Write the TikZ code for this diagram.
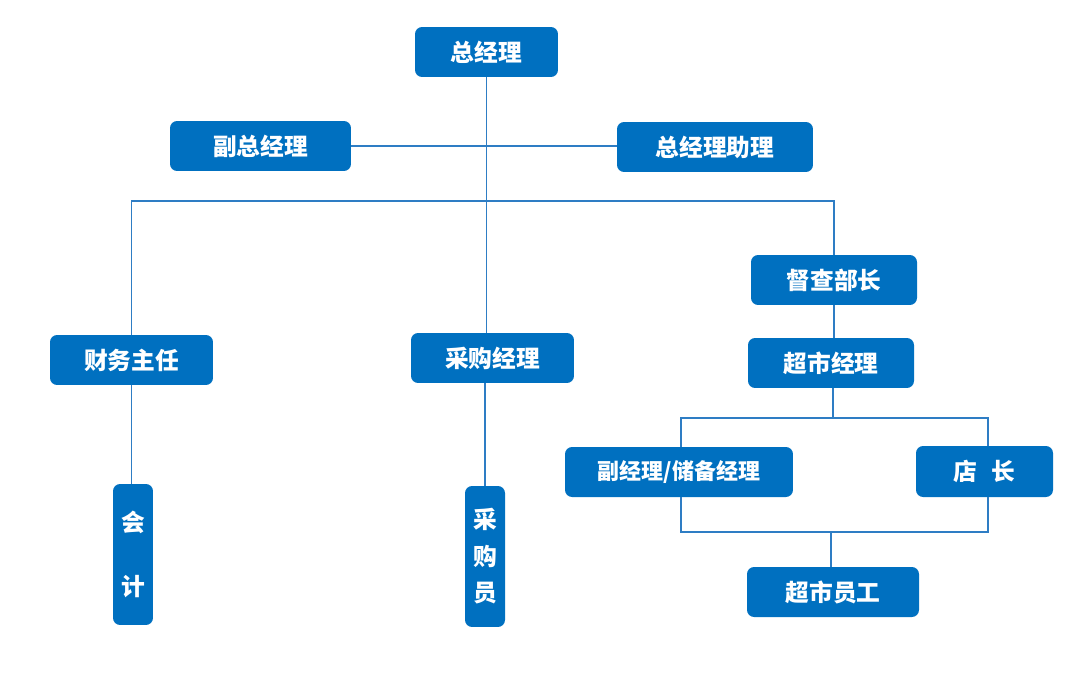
\documentclass[tikz,border=0pt]{standalone}
\usepackage{fontspec}
\newfontfamily\cjk{Noto Sans CJK SC}
\definecolor{boxblue}{HTML}{0070C0}
\definecolor{lineblue}{HTML}{2E7DC4}
\tikzset{
  box/.style={fill=boxblue, rounded corners=4pt, text=white, inner sep=0pt,
    font=\cjk\bfseries\fontsize{13.5}{16}\selectfont},
  vbox/.style={box, align=center},
  link/.style={draw=lineblue, line width=0.8pt}
}
\begin{document}
\begin{tikzpicture}[x=0.02cm,y=-0.02cm]
\useasboundingbox (0,0) rectangle (1067,672);
% top level
\node[box, minimum width=2.86cm, minimum height=1cm] (zjl) at (486.5,52) {总经理};
\node[box, minimum width=3.62cm, minimum height=1cm] (fzjl) at (260.5,146) {副总经理};
\node[box, minimum width=3.92cm, minimum height=1cm] (zlzl) at (715,147) {总经理助理};
% second level
\node[box, minimum width=3.26cm, minimum height=1cm] (cwzr) at (131.5,360) {财务主任};
\node[box, minimum width=3.26cm, minimum height=1cm] (cgjl) at (492.5,358) {采购经理};
\node[box, minimum width=3.32cm, minimum height=1cm] (dcbz) at (834,280) {督查部长};
\node[box, minimum width=3.32cm, minimum height=1cm] (csjl) at (831,363) {超市经理};
% store level
\node[box, minimum width=4.56cm, minimum height=1cm,
  font=\cjk\bfseries\fontsize{12.5}{15}\selectfont] (fjl) at (679,472) {副经理/储备经理};
\node[box, minimum width=2.74cm, minimum height=1.02cm] (dz) at (984.5,471.5) {店\hspace{0.6em}长};
\node[box, minimum width=3.44cm, minimum height=1cm] (csyg) at (833,592) {超市员工};
% staff
\node[vbox, minimum width=0.8cm, minimum height=2.82cm] (kj) at (133,554.5) {会\\[1.5em]计};
\node[vbox, minimum width=0.8cm, minimum height=2.82cm] (cgy) at (485,556.5) {采\\[0.35em]购\\[0.35em]员};
% helper points
\coordinate (bar) at (487,201);
\coordinate (split) at (833,418);
\coordinate (merge) at (831,532);
\coordinate (sl) at (681,0);
\coordinate (sr) at (988,0);
% connectors
\draw[link] (zjl.south) -- (zjl.south |- cgjl.north);
\draw[link] (fzjl.east) -- (fzjl.east -| zlzl.west);
\draw[link] (cwzr.north) |- (bar) -| (dcbz.north);
\draw[link] (dcbz.south) -- (dcbz.south |- csjl.north);
\draw[link] (split |- csjl.south) -- (split);
\draw[link] (sl |- fjl.north) |- (split) -| (sr |- dz.north);
\draw[link] (sl |- fjl.south) |- (merge) -| (sr |- dz.south);
\draw[link] (merge) -- (merge |- csyg.north);
\draw[link] (cwzr.south) -- (cwzr.south |- kj.north);
\draw[link] (cgy.north |- cgjl.south) -- (cgy.north);
\end{tikzpicture}
\end{document}
